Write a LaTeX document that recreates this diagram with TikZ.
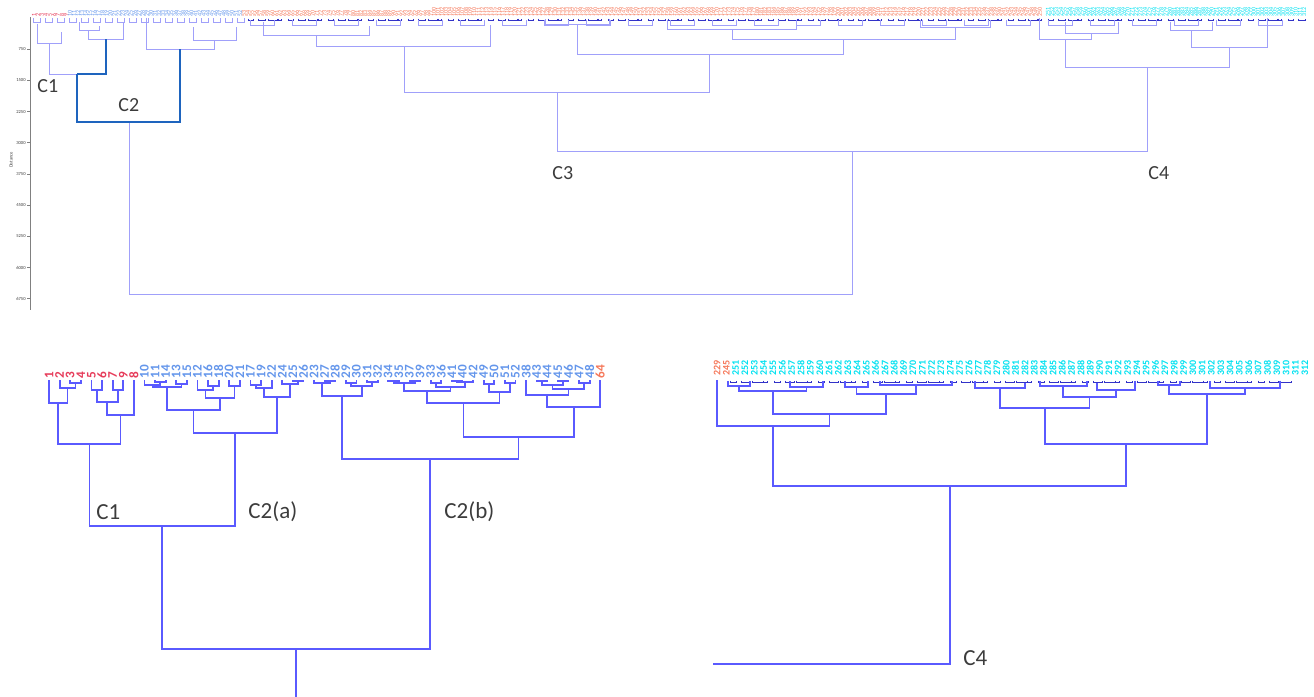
\documentclass[tikz,border=0pt]{standalone}
\usepackage{fontspec}
\setmainfont{Carlito}
\usepackage{tikz}
\usetikzlibrary{positioning}

\definecolor{labred}{RGB}{230,60,90}
\definecolor{labblue}{RGB}{100,150,235}
\definecolor{laborange}{RGB}{245,120,90}
\definecolor{labcyan}{RGB}{0,225,240}
\definecolor{topblue}{RGB}{160,160,250}
\definecolor{c2blue}{RGB}{30,100,190}
\definecolor{botblue}{RGB}{90,90,255}
\definecolor{twigblue}{RGB}{50,50,200}
\definecolor{inkgray}{RGB}{60,60,60}

% 樹形図の結合（左の枝, 右の枝, 結合の高さ）
\newcommand{\dlink}[5]{\draw (#1,#2) |- (#3,#5) -- (#3,#4);}

\begin{document}
\begin{tikzpicture}[
  x=0.5pt,y=-0.5pt,
  toplink/.style={color=topblue,line width=0.5pt},
  c2link/.style={color=c2blue,line width=1.4pt},
  twig/.style={color=twigblue,line width=0.4pt},
  botlink/.style={color=botblue,line width=0.9pt},
  axis/.style={color=gray,line width=0.5pt},
  ticklab/.style={inner sep=0.5pt,text=inkgray,font=\fontsize{2.3}{3}\selectfont},
  toplab/.style={rotate=90,anchor=west,inner sep=0pt,font=\fontsize{3}{3}\selectfont},
  leaf label/.style={rotate=90,anchor=west,inner sep=0pt,font=\fontsize{6.6}{7}\selectfont\bfseries},
  c4 label/.style={rotate=90,anchor=west,inner sep=0pt,font=\fontsize{5}{5}\selectfont\bfseries},
  cluster label/.style={anchor=west,inner sep=0pt,text=inkgray}
]
\useasboundingbox (0,0) rectangle (1314,697);

% ==================================================
% 上段：全体の樹形図
% ==================================================

% 距離の軸
\draw[axis] (30,17) -- (30,310);
\foreach \k in {1,...,9}{
  \pgfmathtruncatemacro\v{750*\k}
  \draw[axis] (27,18+31.2*\k) -- (30,18+31.2*\k);
  \node[ticklab,anchor=east] (tk\k) at (27,18+31.2*\k) {\v};
}
\node[ticklab,rotate=90] (dist) at (11,160) {Distance};

% 葉のラベル
\foreach \n [count=\i from 0] in {1,...,9}
  \node[toplab,text=labred] (t\n) at (34+4*\i,16.5) {\n};
\foreach \n [count=\i from 0] in {10,...,52}
  \node[toplab,text=labblue] (t\n) at (70+4.05*\i,16.5) {\n};
\foreach \n [count=\i from 0] in {53,...,250}
  \node[toplab,text=laborange] (t\n) at (244+4.04*\i,16.5) {\n};
\foreach \n [count=\i from 0] in {251,...,312}
  \node[toplab,text=labcyan] (t\n) at (1048+4.2*\i,16.5) {\n};

% 細かい枝
\begin{scope}[toplink]
  \foreach \x in {33,45,...,240}{
    \dlink{\x}{18}{\x+7}{18}{22}
  }
\end{scope}
\foreach \x [count=\k] in {248,258,...,1300}{
  \pgfmathsetmacro\w{3+mod(\k,4)*2}
  \draw[twig] (\x,18.5) |- (\x+\w,20) -- (\x+\w,18.5);
}
\begin{scope}[toplink]
  \foreach \x in {250,292,...,1290}{
    \dlink{\x}{20}{\x+24}{20}{25}
  }
\end{scope}

% 上位の枝
\begin{scope}[toplink]
  % C1
  \dlink{37}{24}{61}{32}{43}
  \draw (49,43) |- (77,74);
  % C2(a), C2(b)
  \dlink{88}{30}{123}{23}{39}
  \dlink{79}{22}{99}{26}{30}
  \dlink{146}{18}{214}{40}{49}
  \dlink{193}{27}{236}{27}{40}
  % C3
  \dlink{404}{46}{709}{54}{92}
  \dlink{316}{35}{490}{25}{46}
  \dlink{263}{22}{369}{26}{35}
  \dlink{577}{24}{843}{39}{54}
  \dlink{732}{29}{955}{27}{39}
  \dlink{667}{20}{796}{20}{29}
  \dlink{920}{20}{990}{20}{27}
  \dlink{545}{19}{609}{19}{24}
  % C4
  \dlink{1065}{39}{1229}{47}{67}
  \dlink{1039}{18}{1091}{33}{39}
  \dlink{1065}{22}{1118}{22}{33}
  \dlink{1191}{30}{1267}{18}{47}
  \dlink{1170}{22}{1212}{22}{30}
  % 根
  \dlink{557}{92}{1147}{67}{151}
  \dlink{129}{122}{852}{151}{294}
\end{scope}

% C2 を太線で
\begin{scope}[c2link]
  \draw (77,74) -- (106,74) -- (106,39);
  \dlink{77}{74}{180}{49}{122}
\end{scope}

\node[cluster label,font=\fontsize{10}{12}\selectfont] (tc1) at (37,86) {C1};
\node[cluster label,font=\fontsize{10}{12}\selectfont] (tc2) at (118,105) {C2};
\node[cluster label,font=\fontsize{10}{12}\selectfont] (tc3) at (552,173) {C3};
\node[cluster label,font=\fontsize{10}{12}\selectfont] (tc4) at (1148,173) {C4};

% ==================================================
% 下段左：C1 と C2
% ==================================================

\foreach \n [count=\i from 0] in {1,2,3,4,5,6,7,9,8}
  \node[leaf label,text=labred] (b\n) at (49+10.6*\i,379) {\n};
\foreach \n [count=\i from 9] in {10,11,14,13,15,12,16,18,20,21,17,19,22,24,25,26,
    23,27,28,29,30,31,32,34,35,37,39,33,36,41,40,42,49,50,51,52,38,43,44,45,46,47,48}
  \node[leaf label,text=labblue] (b\n) at (49+10.6*\i,379) {\n};
\node[leaf label,text=laborange] (b64) at (600.2,379) {64};

\begin{scope}[botlink]
  % C1
  \dlink{70.2}{380}{80.8}{380}{383}
  \dlink{59.6}{380}{75.5}{383}{388}
  \dlink{49}{380}{67.5}{388}{403}
  \dlink{91.4}{380}{102}{380}{390}
  \dlink{112.6}{380}{123.2}{380}{390}
  \dlink{96.7}{390}{117.9}{390}{401.7}
  \dlink{107.3}{401.7}{133.8}{380}{415}
  \dlink{58.3}{403}{120.5}{415}{444}
  % C2(a)
  \dlink{155}{380}{165.6}{380}{382}
  \dlink{144.4}{380}{160.3}{382}{385}
  \dlink{176.2}{380}{186.8}{380}{384}
  \dlink{152.4}{385}{181.5}{384}{387}
  \dlink{208}{380}{218.6}{380}{386}
  \dlink{197.4}{380}{213.3}{386}{390}
  \dlink{229.2}{380}{239.8}{380}{386}
  \dlink{205.4}{390}{234.5}{386}{398}
  \dlink{167}{387}{220}{398}{410}
  \dlink{250.4}{380}{261}{380}{385}
  \dlink{255.7}{385}{271.6}{380}{388}
  \dlink{292.8}{380}{303.4}{380}{381}
  \dlink{282.2}{380}{298.1}{381}{384}
  \dlink{263.6}{388}{290}{384}{396.7}
  \dlink{193.5}{410}{276.8}{396.7}{432.7}
  \dlink{89.4}{444}{235.2}{432.7}{526}
  % C2(b)
  \dlink{324.6}{380}{335.2}{380}{381}
  \dlink{314}{380}{329.9}{381}{383}
  \dlink{345.8}{380}{356.4}{380}{383}
  \dlink{367}{380}{377.6}{380}{382}
  \dlink{351.1}{383}{372.3}{382}{386}
  \dlink{322}{383}{361.7}{386}{396}
  \dlink{388.2}{380}{398.8}{380}{381}
  \dlink{409.4}{380}{420}{380}{381}
  \dlink{393.5}{381}{414.7}{381}{383}
  \dlink{430.6}{380}{441.2}{380}{383}
  \dlink{451.8}{380}{462.4}{380}{381}
  \dlink{457.1}{381}{473}{380}{382}
  \dlink{435.9}{383}{465}{382}{386.7}
  \dlink{404.1}{383}{450.5}{386.7}{390.7}
  \dlink{483.6}{380}{494.2}{380}{384}
  \dlink{504.8}{380}{515.4}{380}{383}
  \dlink{488.9}{384}{510.1}{383}{391.7}
  \dlink{427.3}{390.7}{499.5}{391.7}{403.3}
  \dlink{536.6}{380}{547.2}{380}{381}
  \dlink{557.8}{380}{568.4}{380}{381}
  \dlink{541.9}{381}{563.1}{381}{385}
  \dlink{579}{380}{589.6}{380}{383}
  \dlink{552.5}{385}{584.3}{383}{389}
  \dlink{526}{380}{568.4}{389}{395}
  \dlink{547.2}{395}{600.2}{380}{406.7}
  \dlink{463.4}{403.3}{573.7}{406.7}{436.7}
  \dlink{341.9}{396}{518.5}{436.7}{459.3}
  % 根
  \dlink{162.3}{526}{430.2}{459.3}{649}
  \draw (296.2,649) -- (296.2,697);
\end{scope}

\node[cluster label,font=\fontsize{11.5}{13}\selectfont] (bc1) at (96,512) {C1};
\node[cluster label,font=\fontsize{11.5}{13}\selectfont] (bc2a) at (248,512) {C2(a)};
\node[cluster label,font=\fontsize{11.5}{13}\selectfont] (bc2b) at (444,512) {C2(b)};

% ==================================================
% 下段右：C4
% ==================================================

\foreach \n [count=\i from 0] in {229,245}
  \node[c4 label,text=laborange] (r\n) at (717+9.33*\i,376) {\n};
\foreach \n [count=\i from 2] in {251,...,312}
  \node[c4 label,text=labcyan] (r\n) at (717+9.33*\i,376) {\n};

% 細かい枝
\foreach \x [count=\k] in {730,741,...,1290}{
  \pgfmathsetmacro\w{4+mod(\k,4)*2.5}
  \draw[twig] (\x,380.5) |- (\x+\w,382) -- (\x+\w,380.5);
}

\begin{scope}[botlink]
  \dlink{728}{381}{750}{381}{385.7}
  \dlink{790}{381}{823}{381}{386.7}
  \dlink{739}{385.7}{806.5}{386.7}{390.7}
  \dlink{845}{381}{868}{381}{386.7}
  \dlink{880}{381}{952}{381}{385}
  \dlink{856.5}{386.7}{916}{385}{394}
  \dlink{772.7}{390.7}{886.3}{394}{414}
  \dlink{717}{380}{829.5}{414}{426}
  \dlink{975}{381}{1025}{383}{388.3}
  \dlink{1040}{381}{1086.7}{381}{386}
  \dlink{1096.7}{383}{1135}{381}{390}
  \dlink{1063.3}{386}{1115.8}{390}{397.3}
  \dlink{1000}{388.3}{1089.5}{397.3}{407.7}
  \dlink{1158}{381}{1180}{381}{385}
  \dlink{1210}{381}{1280}{381}{388}
  \dlink{1169}{385}{1245}{388}{394.3}
  \dlink{1044.7}{407.7}{1207}{394.3}{444}
  \dlink{773.3}{426}{1125.9}{444}{486}
  \draw (949.6,486) -- (949.6,664) -- (713,664);
\end{scope}

\node[cluster label,font=\fontsize{11.5}{13}\selectfont] (bc4) at (963,658) {C4};

\end{tikzpicture}
\end{document}
